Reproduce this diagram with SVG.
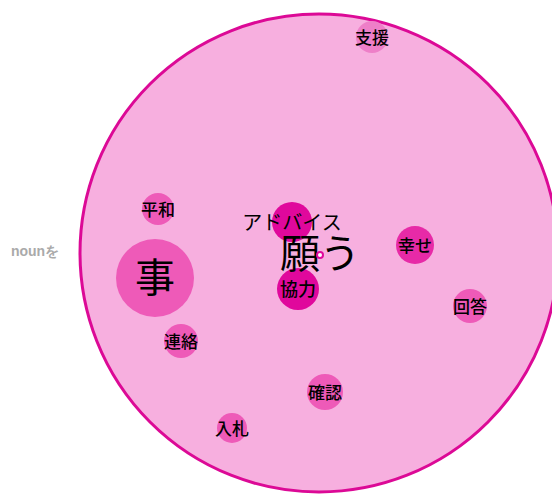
<svg xmlns="http://www.w3.org/2000/svg" width="552" height="494" viewBox="0 0 552 494">
<style>
text{font-family:"Noto Sans CJK JP","Noto Sans",sans-serif;text-anchor:middle;dominant-baseline:central;fill:#000}
.s{font-size:17px;font-weight:500}
.l1{fill:#ee7fc8}
.l2{fill:#ee5ab8}
.l3{fill:#e72aa7}
.l4{fill:#e0089c}
</style>
<rect width="552" height="494" fill="#fff"/>
<text x="35" y="251" style="font-family:'Liberation Sans',sans-serif;font-weight:bold;font-size:14px;fill:#aaa">nounを</text>
<g id="root">
<circle cx="319" cy="253" r="239" fill="#f7afdf" stroke="#dc0996" stroke-width="3"/>
</g>
<g id="connectors"></g>
<g id="n-shien"><circle class="l1" cx="372" cy="37" r="16"/><text class="s" x="372" y="36">支援</text></g>
<g id="n-heiwa"><circle class="l2" cx="158" cy="209" r="16"/><text class="s" x="158" y="208">平和</text></g>
<g id="n-koto"><circle class="l2" cx="155" cy="278" r="39"/><text x="155" y="275" style="font-size:40px">事</text></g>
<g id="n-advice"><circle class="l4" cx="292" cy="222" r="20"/><text x="292" y="221" style="font-size:20px">アドバイス</text></g>
<g id="n-kyoryoku"><circle class="l4" cx="298" cy="289" r="21"/><text class="s" x="298" y="288" style="font-size:18px">協力</text></g>
<g id="n-shiawase"><circle class="l3" cx="415" cy="245" r="19"/><text class="s" x="415" y="244">幸せ</text></g>
<g id="n-kaito"><circle class="l2" cx="470" cy="306" r="17"/><text class="s" x="470" y="305">回答</text></g>
<g id="n-renraku"><circle class="l2" cx="181" cy="341" r="17"/><text class="s" x="181" y="340">連絡</text></g>
<g id="n-kakunin"><circle class="l2" cx="325" cy="392" r="18"/><text class="s" x="325" y="391">確認</text></g>
<g id="n-nyusatsu"><circle class="l2" cx="232" cy="428" r="15"/><text class="s" x="232" y="427">入札</text></g>
<g id="n-negau"><text x="320" y="251" style="font-size:40px">願う</text><circle cx="320" cy="255" r="3" fill="#fff" stroke="#e0089c" stroke-width="2"/></g>
</svg>
